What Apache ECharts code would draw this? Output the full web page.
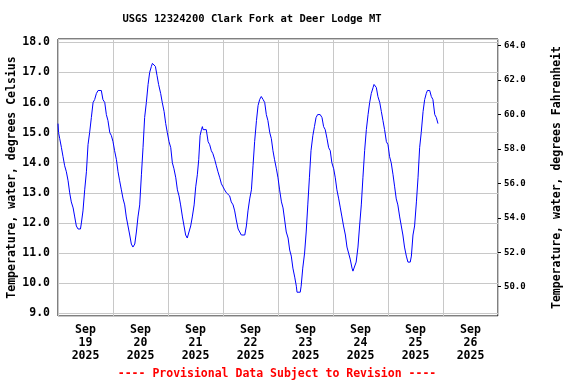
<!DOCTYPE html>
<html><head><meta charset="utf-8">
<script src="https://cdn.jsdelivr.net/npm/echarts@6/dist/echarts.min.js"></script>
<style>html,body{margin:0;padding:0;background:#fff}#c{width:576px;height:384px}</style>
</head><body><div id="c"></div>
<script>
var titleText = 'USGS 12324200 Clark Fork at Deer Lodge MT';
var noteText = '---- Provisional Data Subject to Revision ----';
var leftName = 'Temperature, water, degrees Celsius';
var rightName = 'Temperature, water, degrees Fahrenheit';
var dayLabels = ['Sep\n19\n2025','Sep\n20\n2025','Sep\n21\n2025','Sep\n22\n2025','Sep\n23\n2025','Sep\n24\n2025','Sep\n25\n2025','Sep\n26\n2025'];
// hours since 2025-09-19 00:00
var hours = [0,0.25,0.75,1.5,2.2,2.9,3.65,4.4,5.1,5.8,6.6,7.3,8.0,8.75,9.8,10.2,10.9,11.65,12.4,13.1,13.8,14.55,15.3,16.0,16.75,17.5,18.9,19.6,20.4,21.1,21.8,22.6,23.3,
24.0,24.7,25.5,26.2,26.9,27.65,28.4,29.1,29.8,30.55,31.3,32.0,32.7,33.5,34.2,34.9,35.65,36.4,37.1,37.8,38.55,39.3,40.0,40.75,41.2,41.9,42.5,43.2,43.9,44.8,45.5,46.3,47.0,47.7,
48.45,49.2,49.9,50.6,51.4,52.1,52.8,53.5,54.3,55.0,55.7,56.4,57.2,57.9,58.6,59.4,60.1,60.8,61.4,62.0,62.6,63.0,63.3,64.7,65.5,66.2,66.9,67.6,68.4,69.1,69.8,70.6,71.3,
72.0,72.7,73.5,74.2,74.9,75.6,76.4,77.1,77.8,78.6,79.3,80.0,81.5,82.2,82.9,83.65,84.4,85.1,85.8,86.6,87.3,88.0,88.7,89.5,90.2,90.9,91.6,92.4,93.1,93.8,94.5,95.3,
96.0,96.7,97.5,98.2,98.9,99.6,100.4,101.1,101.8,102.5,103.3,104.0,104.3,105.7,106.1,106.8,107.6,108.3,109.0,109.7,110.4,111.2,111.9,112.6,113.3,114.4,115.2,115.9,116.6,117.4,118.1,118.8,119.5,
120.3,121.0,121.7,122.5,123.2,123.9,124.6,125.4,126.1,126.8,127.5,128.3,128.7,129.4,130.1,130.9,131.6,132.35,133.05,133.8,134.55,135.3,136.0,136.7,137.5,137.9,138.3,138.9,139.6,140.4,141.1,141.8,142.5,143.3,
144.0,144.7,145.4,146.2,146.9,147.6,148.3,149.1,149.8,150.5,151.2,152.0,152.7,153.7,154.2,154.9,155.6,156.4,157.1,157.8,158.5,159.3,160.0,160.7,161.2,162.2,162.9,163.6,164.4,165.1,165.8];
var tempC = [15.3,15.0,14.8,14.5,14.2,13.9,13.7,13.4,13.0,12.7,12.5,12.2,11.9,11.8,11.8,12.0,12.4,13.1,13.7,14.6,15.0,15.5,16.0,16.1,16.3,16.4,16.4,16.1,16.0,15.6,15.4,15.0,14.9,
14.7,14.4,14.1,13.7,13.4,13.1,12.8,12.6,12.2,11.9,11.6,11.3,11.2,11.3,11.7,12.2,12.6,13.6,14.5,15.5,16.0,16.6,17.0,17.2,17.3,17.3,17.2,16.9,16.6,16.3,16.0,15.7,15.3,15.0,
14.7,14.5,14.0,13.8,13.5,13.1,12.9,12.6,12.2,11.9,11.6,11.5,11.5,11.9,12.2,12.6,13.2,13.6,14.1,14.9,15.1,15.2,15.1,15.1,14.7,14.6,14.4,14.3,14.1,13.9,13.7,13.5,13.3,
13.2,13.1,13.0,13.0,12.9,12.7,12.6,12.4,12.1,11.8,11.7,11.6,11.6,11.9,12.4,12.8,13.1,13.9,14.7,15.4,15.9,16.1,16.2,16.1,16.0,15.6,15.4,15.0,14.8,14.4,14.1,13.8,
13.5,13.1,12.7,12.5,12.1,11.7,11.5,11.1,10.9,10.5,10.2,9.9,9.7,9.7,9.9,10.5,11.0,11.7,12.6,13.5,14.4,14.9,15.2,15.5,15.6,15.6,15.5,15.2,15.1,14.8,14.5,14.4,14.0,
13.8,13.5,13.1,12.8,12.5,12.2,11.9,11.6,11.2,11.0,10.8,10.5,10.4,10.4,10.7,11.2,11.9,12.6,13.5,14.4,15.1,15.6,16.0,16.3,16.5,16.6,16.6,16.5,16.2,16.0,15.7,15.4,15.1,14.7,
14.6,14.2,14.0,13.6,13.2,12.8,12.6,12.2,11.9,11.6,11.2,10.9,10.7,10.7,10.9,11.6,11.9,12.7,13.5,14.5,15.0,15.7,16.1,16.3,16.4,16.4,16.2,16.1,15.6,15.5,15.3];

var FONT = '"DejaVu Sans Mono", monospace';
var pts = hours.map(function(h, i){ return [h, tempC[i]]; });
var chart = echarts.init(document.getElementById('c'), null, {renderer:'canvas'});
chart.setOption({
  animation: false,
  backgroundColor: '#fff',
  title: [
    {text: titleText, left: 252, textAlign: 'center', top: 14, padding: 0,
     textStyle: {fontFamily: FONT, fontWeight: 'bold', fontSize: 10.5, color: '#000'}},
    {text: noteText, left: 277, textAlign: 'center', top: 368, padding: 0,
     textStyle: {fontFamily: FONT, fontWeight: 'bold', fontSize: 11.5, color: '#ff0000'}}
  ],
  grid: {left: 58, top: 39, right: 78, bottom: 68, containLabel: false, outerBoundsMode: 'none',
         show: true, borderColor: '#000', borderWidth: 1, backgroundColor: 'transparent'},
  xAxis: [
    {type: 'value', min: 0, max: 192, interval: 24,
     axisLine: {show: false, onZero: false}, axisTick: {show: false}, axisLabel: {show: false},
     splitLine: {show: true, lineStyle: {color: '#c8c8c8', width: 1}}},
    {type: 'value', min: 0, max: 192, interval: 12, position: 'bottom',
     axisLine: {show: false, onZero: false}, axisTick: {show: false}, splitLine: {show: false},
     axisLabel: {show: true, margin: 8, fontFamily: FONT, fontWeight: 'bold', fontSize: 11.5, lineHeight: 13, color: '#000',
       formatter: function(v){ return (v % 24 === 12) ? dayLabels[(v - 12) / 24] : ''; }}}
  ],
  yAxis: [
    {type: 'value', min: 8.91, max: 18.11, splitNumber: 9, position: 'left',
     name: leftName, nameLocation: 'middle', nameRotate: 90, nameGap: 40, nameMoveOverlap: false,
     nameTextStyle: {fontFamily: FONT, fontWeight: 'bold', fontSize: 11.5, color: '#000'},
     axisLine: {show: false, onZero: false}, axisTick: {show: false},
     splitLine: {show: true, lineStyle: {color: '#c8c8c8', width: 1}},
     axisLabel: {margin: 8, showMinLabel: false, showMaxLabel: false, fontFamily: FONT, fontWeight: 'bold', fontSize: 11.5, color: '#000',
       formatter: function(v){ return v.toFixed(1); }}},
    {type: 'value', min: 48.3, max: 64.39, splitNumber: 7, position: 'right',
     name: rightName, nameLocation: 'middle', nameRotate: 90, nameGap: 53, nameMoveOverlap: false,
     nameTextStyle: {fontFamily: FONT, fontWeight: 'bold', fontSize: 11.5, color: '#000'},
     axisLine: {show: false, onZero: false}, axisTick: {show: true, length: 3, lineStyle: {color: '#000'}},
     splitLine: {show: false},
     axisLabel: {margin: 6, showMinLabel: false, showMaxLabel: false, fontFamily: FONT, fontWeight: 'bold', fontSize: 9, color: '#000',
       formatter: function(v){ return v.toFixed(1); }}}
  ],
  series: [{
    type: 'line', xAxisIndex: 0, yAxisIndex: 0, data: pts, showSymbol: false, symbol: 'none',
    lineStyle: {color: '#0000ff', width: 1}, silent: true
  }]
});
</script></body></html>
